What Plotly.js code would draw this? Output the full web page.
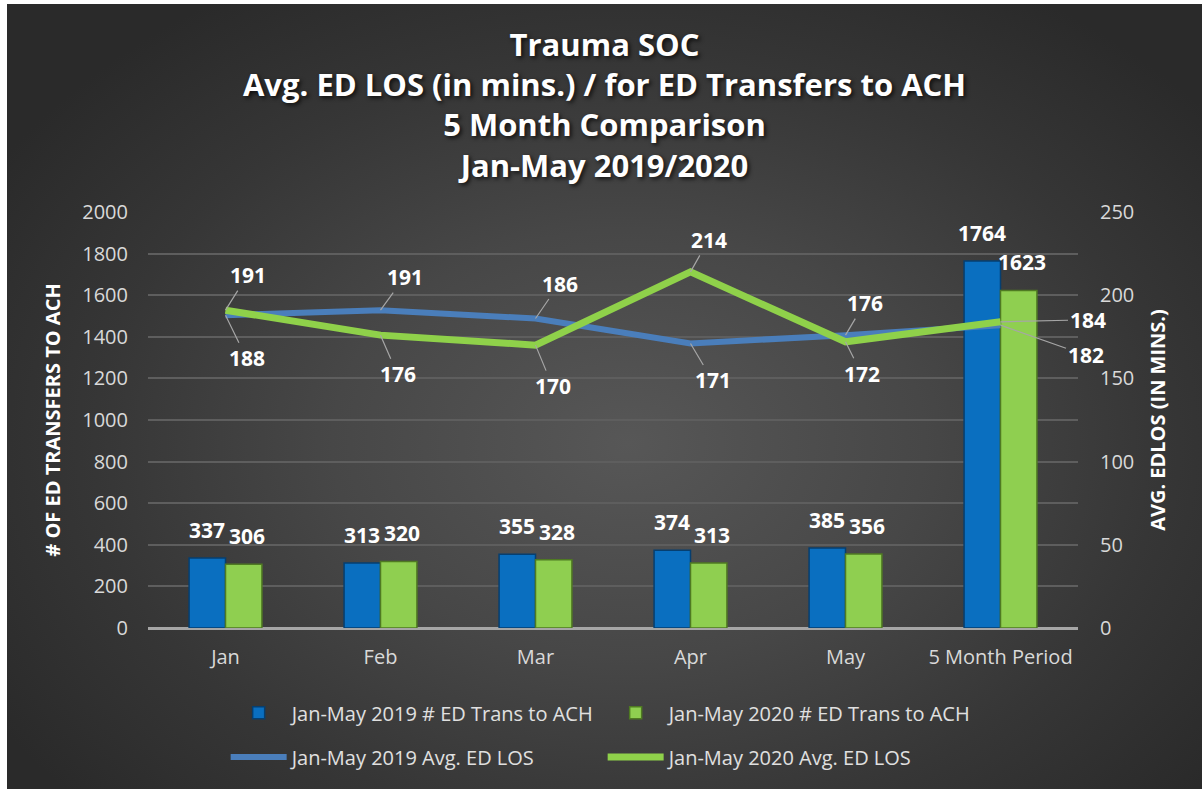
<!DOCTYPE html>
<html><head><meta charset="utf-8">
<script src="https://cdn.plot.ly/plotly-3.0.1.min.js"></script>
<style>
html,body{margin:0;padding:0;background:#fff;width:1202px;height:789px;overflow:hidden}
#chart{position:absolute;left:7px;top:4px;width:1195px;height:785px;
background: radial-gradient(ellipse 62% 68% at 52% 56%, #575757 0%, #474747 40%, #363636 72%, #2a2a2a 100%);}
</style></head><body><div id="chart"></div>
<script>
// ---- data ----
const categories = ['Jan', 'Feb', 'Mar', 'Apr', 'May', '5 Month Period'];
const trans2019 = [337, 313, 355, 374, 385, 1764];
const trans2020 = [306, 320, 328, 313, 356, 1623];
const los2019 = [188, 191, 186, 171, 176, 182];
const los2020 = [191, 176, 170, 214, 172, 184];
const leftTicks = [0, 200, 400, 600, 800, 1000, 1200, 1400, 1600, 1800, 2000];
const rightTicks = [0, 50, 100, 150, 200, 250];
const seriesNames = ['Jan-May 2019 # ED Trans to ACH', 'Jan-May 2020 # ED Trans to ACH',
                     'Jan-May 2019 Avg. ED LOS', 'Jan-May 2020 Avg. ED LOS'];
const titleLines = ['Trauma SOC', 'Avg. ED LOS (in mins.) / for ED Transfers to ACH', '5 Month Comparison', 'Jan-May 2019/2020'];
const leftTitle = '# OF ED TRANSFERS TO ACH';
const rightTitle = 'AVG. EDLOS (IN MINS.)';

// ---- style (label offsets in px) ----
const off2019 = [[21, 43], [24, -33], [24, -35], [22, 37], [19, -32], [85, 30]];
const off2020 = [[22, -35], [17, 39], [17, 41], [18, -32], [16, 32], [87, -2]];
const FONT = 'Open Sans, Lato, sans-serif';
const BLUE = '#0a6fc0', GREEN = '#8fcf50', LBLUE = '#4a7ebb', LGREEN = '#8fd14a';

const traces = [
  {type: 'bar', x: categories, y: trans2019, name: seriesNames[0], legend: 'legend',
   marker: {color: BLUE, line: {color: '#063f70', width: 1.5}}, hoverinfo: 'y'},
  {type: 'bar', x: categories, y: trans2020, name: seriesNames[1], legend: 'legend',
   marker: {color: GREEN, line: {color: '#4f7a22', width: 1.5}}, hoverinfo: 'y'},
  {type: 'scatter', mode: 'lines', x: categories, y: los2019, yaxis: 'y2', name: seriesNames[2], legend: 'legend2',
   line: {color: LBLUE, width: 6}},
  {type: 'scatter', mode: 'lines', x: categories, y: los2020, yaxis: 'y2', name: seriesNames[3], legend: 'legend2',
   line: {color: LGREEN, width: 7}}
];

const labelFont = {family: FONT, size: 21, color: '#ffffff', weight: 'bold'};
const annotations = [];
categories.forEach((c, i) => {
  annotations.push({x: c, y: trans2019[i], xref: 'x', yref: 'y', text: String(trans2019[i]),
    showarrow: false, xshift: -19, yshift: 12, yanchor: 'bottom', font: labelFont});
  annotations.push({x: c, y: trans2020[i], xref: 'x', yref: 'y', text: String(trans2020[i]),
    showarrow: false, xshift: 21, yshift: 12, yanchor: 'bottom', font: labelFont});
  annotations.push({x: c, y: los2019[i], xref: 'x', yref: 'y2', text: String(los2019[i]),
    showarrow: true, arrowhead: 0, arrowwidth: 1.2, arrowcolor: '#a6a6a6', standoff: 0,
    ax: off2019[i][0], ay: off2019[i][1], font: labelFont});
  annotations.push({x: c, y: los2020[i], xref: 'x', yref: 'y2', text: String(los2020[i]),
    showarrow: true, arrowhead: 0, arrowwidth: 1.2, arrowcolor: '#a6a6a6', standoff: 0,
    ax: off2020[i][0], ay: off2020[i][1], font: labelFont});
});

const tickFont = {family: FONT, size: 20, color: '#d9d9d9'};
const legendCommon = {orientation: 'h', xanchor: 'left', yanchor: 'middle', x: 0.0835,
  bgcolor: 'rgba(0,0,0,0)', font: {family: FONT, size: 20, color: '#e0e0e0'},
  entrywidth: 306, itemwidth: 56};

const layout = {
  width: 1195, height: 785,
  paper_bgcolor: 'rgba(0,0,0,0)', plot_bgcolor: 'rgba(0,0,0,0)',
  margin: {l: 141, r: 124, t: 208, b: 161},
  title: {text: titleLines.join('<br>'), x: 0.5, xanchor: 'center', y: 0.934, yanchor: 'middle',
    font: {family: FONT, size: 31, color: '#ffffff', weight: 'bold', shadow: '2px 2px 4px rgba(0,0,0,0.75)'}},
  barmode: 'group', bargap: 0.53, bargroupgap: 0,
  showlegend: true,
  legend: Object.assign({}, legendCommon, {y: -0.204}),
  legend2: Object.assign({}, legendCommon, {y: -0.31}),
  xaxis: {type: 'category', range: [-0.5, 5.5], autorange: false, showgrid: false, zeroline: false, showline: false, ticks: '',
    tickfont: tickFont, ticklabelstandoff: 15},
  yaxis: {range: [0, 2000], autorange: false, tickvals: leftTicks, showgrid: true, gridcolor: '#5e5e5e', gridwidth: 1.5,
    zeroline: true, zerolinecolor: '#a6a6a6', zerolinewidth: 2.5, showline: false, ticks: '',
    tickfont: tickFont, ticklabelstandoff: 19,
    title: {text: leftTitle, standoff: 16, font: {family: FONT, size: 20, color: '#ffffff', weight: 'bold'}}},
  yaxis2: {range: [0, 250], autorange: false, tickvals: rightTicks, overlaying: 'y', side: 'right', showgrid: false,
    zeroline: false, showline: false, ticks: '', tickfont: tickFont, ticklabelstandoff: 21,
    title: {text: rightTitle, standoff: 17, font: {family: FONT, size: 20, color: '#ffffff', weight: 'bold'}}},
  annotations: annotations
};

Plotly.newPlot('chart', traces, layout, {displayModeBar: false, responsive: false});
</script></body></html>
